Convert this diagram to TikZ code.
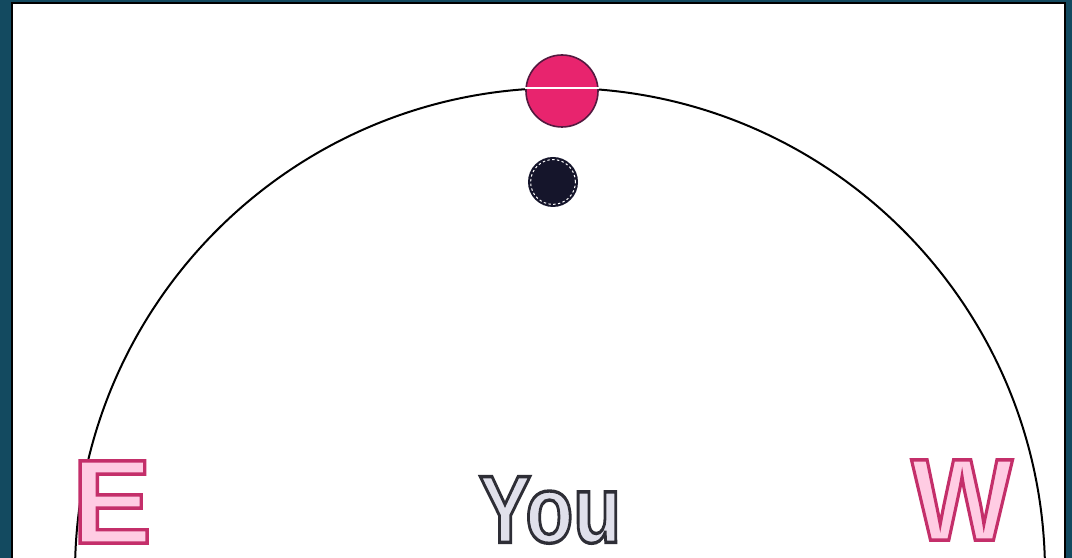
\documentclass[tikz,border=0pt]{standalone}
\usepackage{fontspec}
\setmainfont{Liberation Sans}

\definecolor{rahmen}{HTML}{134A60}
\definecolor{sonne}{HTML}{E8246E}
\definecolor{mond}{HTML}{15152B}
\definecolor{rosa}{HTML}{C42F6A}
\definecolor{grau}{HTML}{2E2E36}

% hohle Buchstaben (Kontur + helle Fuellung)
\newcommand{\hohl}[3]{{\color{#1}\special{pdf:code 2 Tr 2.4 w #2 rg}#3\special{pdf:code 0 Tr}}}

\begin{document}
\begin{tikzpicture}
	\useasboundingbox (0,0) rectangle (26.8,13.95);
	
	% Zeichnet den dunklen Rahmen
	\fill[rahmen] (0,0) rectangle (26.8,13.95);
	
	% Zeichnet die weisse Flaeche
	\draw[fill=white][line width=0.04cm][draw=black] (0.3,-0.3) rectangle (26.625,13.875);
	
	% Zeichnet den Halbkreis (Horizont)
	\draw[line width=0.05cm] (26.125,-0.375) arc (0:180:12.125);
	
	% Zeichnet die Sonne oben am Bogen
	\node[circle, fill=sonne, draw=mond!70!sonne, line width=0.04cm, minimum size=1.8cm, inner sep=0pt] (sonne) at (14.05,11.675) {};
	\draw[white][line width=0.05cm] ([yshift=0.075cm]sonne.west) -- ([yshift=0.075cm]sonne.east);
	
	% Zeichnet den dunklen Punkt darunter
	\node[circle, fill=mond, minimum size=1.25cm, inner sep=0pt] (punkt) at (13.825,9.4) {};
	\draw[white][line width=0.025cm][dash pattern=on 0.06cm off 0.06cm] (punkt.center) circle [radius=0.56];
	
	% Beschriftungen E, You, W
	\node[inner sep=0pt] (osten) at (2.8,1.4) {\fontsize{85}{85}\selectfont\bfseries\hohl{rosa}{1 0.8 0.89}{E}};
	\node[inner sep=0pt] (du) at (13.75,1.2) {\scalebox{0.82}[1]{\fontsize{68}{68}\selectfont\bfseries\hohl{grau}{0.88 0.88 0.92}{You}}};
	\node[inner sep=0pt] (westen) at (24.05,1.45) {\scalebox{0.92}[1]{\fontsize{83}{83}\selectfont\bfseries\hohl{rosa}{1 0.8 0.89}{W}}};
	
\end{tikzpicture}
\end{document}
